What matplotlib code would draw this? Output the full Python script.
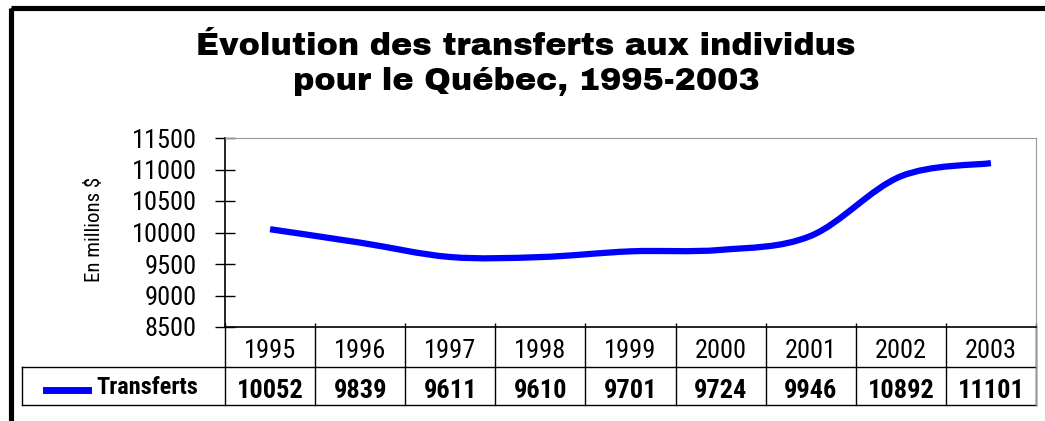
import numpy as np
import matplotlib
matplotlib.use('Agg')
import matplotlib.pyplot as plt
from matplotlib.path import Path
from matplotlib.patches import PathPatch, Rectangle
from matplotlib.lines import Line2D

# data
years = ['1995', '1996', '1997', '1998', '1999', '2000', '2001', '2002', '2003']
transferts = [10052, 9839, 9611, 9610, 9701, 9724, 9946, 10892, 11101]
y_ticks = [8500, 9000, 9500, 10000, 10500, 11000, 11500]
series_name = 'Transferts'
title_lines = ['Évolution des transferts aux individus', 'pour le Québec, 1995-2003']
y_label = 'En millions $'

narrow = ['Roboto Condensed', 'PT Sans Narrow', 'Liberation Sans Narrow', 'DejaVu Sans']
heavy = ['Archivo Black', 'Lato', 'DejaVu Sans']
blue = '#0000ff'

W, H = 1045, 421
fig = plt.figure(figsize=(W / 100, H / 100), dpi=100)

# pixel helper axes for frame and table
bg = fig.add_axes([0, 0, 1, 1])
bg.set_xlim(0, W)
bg.set_ylim(H, 0)
bg.axis('off')

# thick outer frame (runs off right/bottom)
bg.add_patch(Rectangle((10.5, 7.5), 1100, 500, fill=False, lw=3.7, ec='black'))

for k, line in enumerate(title_lines):
    bg.text(526, 55 + 35 * k, line, ha='center', va='baseline', fontsize=23,
            fontweight=900, family=heavy)

# plot area
left, right, top, bottom = 225, 1036, 138, 327
ax = fig.add_axes([left / W, 1 - bottom / H, (right - left) / W, (bottom - top) / H])
n = len(years)
ax.set_xlim(0, n)
ax.set_ylim(8500, 11500)
ax.set_yticks(y_ticks)
ax.set_yticklabels([str(v) for v in y_ticks], family=narrow, fontsize=19)
ax.set_xticks(range(n + 1))
ax.set_xticklabels([])
ax.tick_params(axis='y', direction='inout', length=15, width=1, pad=13)
ax.tick_params(axis='x', direction='in', length=3, width=1)
for s in ['top', 'right']:
    ax.spines[s].set_color('#999999')
ax.spines['left'].set_linewidth(1.2)
ax.spines['bottom'].set_linewidth(1.2)
bg.text(95, 229, y_label, rotation=90, ha='center', va='center', family=narrow, fontsize=15)

# smoothed line (cubic bezier through the data points)
xs = np.arange(n) + 0.5
pts = np.column_stack([xs, transferts]).astype(float)
verts = [pts[0]]
codes = [Path.MOVETO]
for i in range(n - 1):
    p0 = pts[i - 1] if i > 0 else pts[i]
    p1, p2 = pts[i], pts[i + 1]
    p3 = pts[i + 2] if i + 2 < n else pts[i + 1]
    c1 = p1 + (p2 - p0) / 6
    c2 = p2 - (p3 - p1) / 6
    verts += [c1, c2, p2]
    codes += [Path.CURVE4] * 3
ax.add_patch(PathPatch(Path(verts, codes), fill=False, ec=blue, lw=4.5,
                       capstyle='butt', joinstyle='round'))

# data table
col_w = (right - left) / n
row1_bot, row2_bot = 367, 405
tleft = 22
for i in range(n + 1):
    x = left + i * col_w
    bg.plot([x, x], [bottom, row2_bot], color='black', lw=1)
bg.plot([tleft, right], [row1_bot, row1_bot], color='black', lw=1)
bg.plot([tleft, right], [row2_bot, row2_bot], color='black', lw=1)
bg.plot([tleft, tleft], [row1_bot, row2_bot], color='black', lw=1)
bg.plot([right, right], [bottom, row2_bot], color='#999999', lw=1)
for i in range(n):
    cx = left + (i + 0.5) * col_w
    bg.text(cx, (bottom + row1_bot) / 2 + 4, years[i], ha='center', va='center',
            family=narrow, fontsize=19)
    bg.text(cx, (row1_bot + row2_bot) / 2 + 5, str(transferts[i]), ha='center',
            va='center', family=narrow, fontsize=19, fontweight='bold')
bg.add_line(Line2D([46, 88], [390, 390], color=blue, lw=5))
bg.text(96, (row1_bot + row2_bot) / 2 + 2, series_name, ha='left', va='center',
        family=narrow, fontsize=17.5, fontweight='bold')

fig.savefig('out.png', dpi=100)
